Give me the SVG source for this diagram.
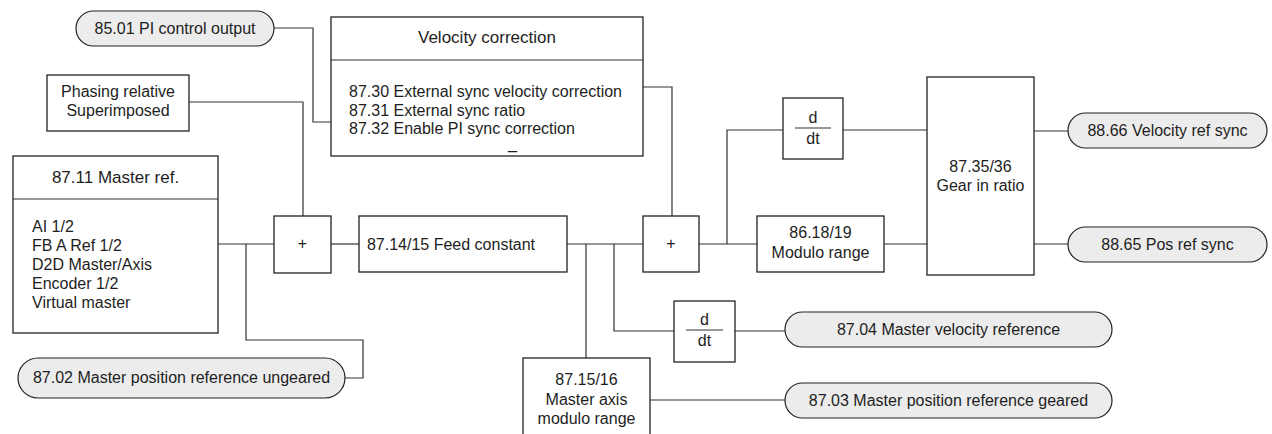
<svg xmlns="http://www.w3.org/2000/svg" width="1272" height="434" viewBox="0 0 1272 434">
<style>
text { font-family: "Liberation Sans", Arial, sans-serif; font-size: 16px; fill: #1e1e1e; }
.m { text-anchor: middle; }
.t { font-size: 17px; }
.box { fill: #ffffff; stroke: #222222; stroke-width: 1.3; }
.pill { fill: #ececec; stroke: #222222; stroke-width: 1.2; }
.conn path, .ln { fill: none; stroke: #333333; stroke-width: 1.2; }
</style>
<rect width="1272" height="434" fill="#ffffff"/>
<g class="conn" id="connectors">
<path d="M274,28 H313 V122 H331"/>
<path d="M189,102 H303 V216"/>
<path d="M218,244 H274"/>
<path d="M246,244 V340 H363 V378 H345"/>
<path d="M331,244 H359"/>
<path d="M567,244 H643"/>
<path d="M586,244 V358"/>
<path d="M614,244 V331 H674"/>
<path d="M735,331 H785"/>
<path d="M650,400 H785"/>
<path d="M643,87 H672 V216"/>
<path d="M699,244 H757"/>
<path d="M727,244 V130 H783"/>
<path d="M843,130 H927"/>
<path d="M884,244 H927"/>
<path d="M1034,131 H1068"/>
<path d="M1034,244 H1068"/>
</g>
<g id="pi-output">
<rect class="pill" x="76" y="11" width="198" height="35" rx="17.5"/>
<text class="m" x="175" y="34">85.01 PI control output</text>
</g>
<g id="phasing">
<rect class="box" x="47" y="75" width="142" height="56"/>
<text class="m" x="118" y="97">Phasing relative</text>
<text class="m" x="118" y="116">Superimposed</text>
</g>
<g id="velocity-correction">
<rect class="box" x="331" y="17" width="312" height="139"/>
<line class="ln" x1="331" y1="60" x2="643" y2="60"/>
<text class="m t" x="487" y="43">Velocity correction</text>
<text x="349" y="97">87.30 External sync velocity correction</text>
<text x="349" y="115.5">87.31 External sync ratio</text>
<text x="349" y="134">87.32 Enable PI sync correction</text>
<text x="508" y="149">_</text>
</g>
<g id="master-ref">
<rect class="box" x="13" y="156" width="205" height="177"/>
<line class="ln" x1="13" y1="199" x2="218" y2="199"/>
<text class="m t" x="115.5" y="183">87.11 Master ref.</text>
<text x="32" y="232">AI 1/2</text>
<text x="32" y="251">FB A Ref 1/2</text>
<text x="32" y="270">D2D Master/Axis</text>
<text x="32" y="289">Encoder 1/2</text>
<text x="32" y="308">Virtual master</text>
</g>
<g id="sum1">
<rect class="box" x="274" y="216" width="57" height="57"/>
<text class="m" x="302.5" y="249">+</text>
</g>
<g id="feed-constant">
<rect class="box" x="359" y="216" width="208" height="56"/>
<text class="m" x="451" y="250">87.14/15 Feed constant</text>
</g>
<g id="sum2">
<rect class="box" x="643" y="216" width="56" height="56"/>
<text class="m" x="671" y="249">+</text>
</g>
<g id="ddt-upper">
<rect class="box" x="783" y="98" width="60" height="61"/>
<text class="m" x="813" y="123">d</text>
<line class="ln" x1="795" y1="128" x2="831" y2="128"/>
<text class="m" x="813" y="144">dt</text>
</g>
<g id="modulo-range">
<rect class="box" x="757" y="216" width="127" height="56"/>
<text class="m" x="820.5" y="238">86.18/19</text>
<text class="m" x="820.5" y="258">Modulo range</text>
</g>
<g id="gear-ratio">
<rect class="box" x="927" y="77" width="107" height="198"/>
<text class="m" x="980.5" y="172">87.35/36</text>
<text class="m" x="980.5" y="191">Gear in ratio</text>
</g>
<g id="velocity-ref-sync">
<rect class="pill" x="1068" y="113" width="199" height="35" rx="17.5"/>
<text class="m" x="1167.5" y="136">88.66 Velocity ref sync</text>
</g>
<g id="pos-ref-sync">
<rect class="pill" x="1068" y="227" width="199" height="35" rx="17.5"/>
<text class="m" x="1167.5" y="250">88.65 Pos ref sync</text>
</g>
<g id="ddt-lower">
<rect class="box" x="674" y="301" width="61" height="61"/>
<text class="m" x="704.5" y="325">d</text>
<line class="ln" x1="686" y1="330" x2="723" y2="330"/>
<text class="m" x="704.5" y="346">dt</text>
</g>
<g id="master-velocity-ref">
<rect class="pill" x="785" y="312" width="327" height="35" rx="17.5"/>
<text class="m" x="948.5" y="335">87.04 Master velocity reference</text>
</g>
<g id="master-axis-modulo">
<rect class="box" x="523" y="358" width="127" height="90"/>
<text class="m" x="586.5" y="385">87.15/16</text>
<text class="m" x="586.5" y="405">Master axis</text>
<text class="m" x="586.5" y="424">modulo range</text>
</g>
<g id="master-pos-geared">
<rect class="pill" x="785" y="383" width="327" height="35" rx="17.5"/>
<text class="m" x="948.5" y="406">87.03 Master position reference geared</text>
</g>
<g id="master-pos-ungeared">
<rect class="pill" x="18" y="358" width="327" height="40" rx="20"/>
<text class="m" x="181.5" y="383">87.02 Master position reference ungeared</text>
</g>
</svg>
